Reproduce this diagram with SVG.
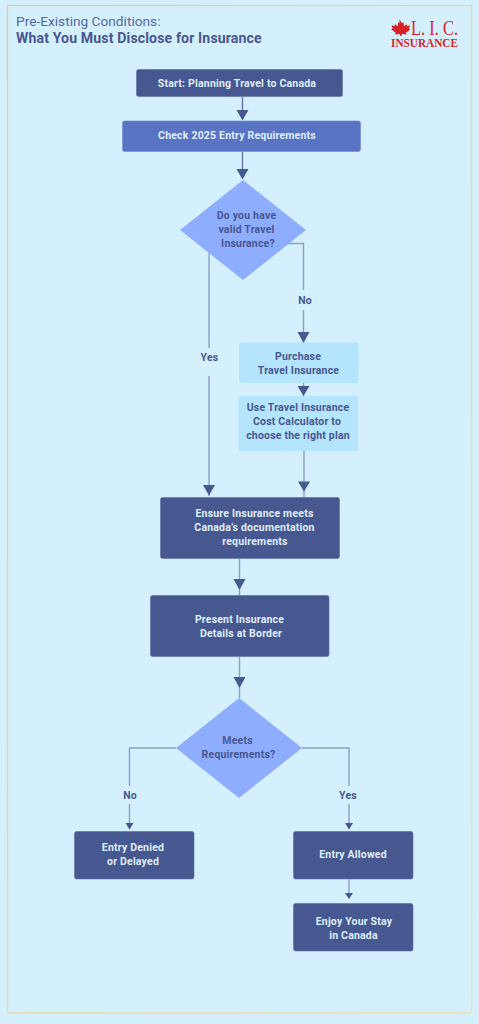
<svg xmlns="http://www.w3.org/2000/svg" width="479" height="1024" viewBox="0 0 479 1024">
<style>
text{font-family:"Roboto","Liberation Sans",sans-serif;text-anchor:middle;font-size:10.5px;font-weight:700;letter-spacing:.2px}
.l{fill:#dfeefb}.d{fill:#47578f}
.dark{fill:#47578f;stroke:#5d6ea6;stroke-width:.6}
.mid{fill:#5a74c4;stroke:#7187cf;stroke-width:.6}
.pale{fill:#b5e4ff}
.dia{fill:#8fadff}
.c{fill:none;stroke:#8a9fc9;stroke-width:1.4}
.k{fill:none;stroke:#5f74ab;stroke-width:1.4}
.h{fill:#47578f}
.logo{font-family:"Liberation Serif",serif;fill:#d8232a;letter-spacing:0}
</style>
<defs>
<linearGradient id="fr" x1="0" y1="0" x2="1" y2="1"><stop offset="0" stop-color="#d9d0a6"/><stop offset="1" stop-color="#f8dfa4"/></linearGradient>
</defs>
<rect width="479" height="1024" fill="#d4f0ff"/>
<rect x="7.500" y="5.500" width="464" height="1007.500" fill="#d4f0ff" stroke="url(#fr)" stroke-width="1.400"/>
<g id="title">
<text x="16" y="26" style="text-anchor:start;font-size:13.700px;font-weight:400;letter-spacing:0" fill="#56689f">Pre-Existing Conditions:</text>
<text x="16" y="43" style="text-anchor:start;font-size:14.100px;font-weight:700;letter-spacing:.13px" fill="#47578f">What You Must Disclose for Insurance</text>
</g>
<g id="logo">
<path d="M399.500 19.500l2.500 3.500 1.500-.7.500 4 2.500-2 .7 1.700 2.800-.7-1 3.200 1.500.8-4.500 3.500.5 1.700-4.500-.6-.7 2.100h-1l-.7-2.100-4.500.6.500-1.700-4.500-3.500 1.500-.8-1-3.200 2.800.7.700-1.700 2.500 2 .5-4 1.500.7z" fill="#d8232a"/>
<text class="logo" x="411" y="35" textLength="47" lengthAdjust="spacingAndGlyphs" style="text-anchor:start;font-size:22px;font-weight:400">L. I. C.</text>
<text class="logo" x="391" y="46.500" textLength="67" lengthAdjust="spacingAndGlyphs" style="text-anchor:start;font-size:12.500px;font-weight:700">INSURANCE</text>
</g>
<g id="connectors">
<path class="k" d="M242.500 97V111M242.500 152V170"/>
<path class="h" d="M236.500 110H248.500L242.500 120.500Z"/>
<path class="h" d="M236.500 169H248.500L242.500 179.500Z"/>
<path class="c" d="M209 253V348M209 376V496"/>
<path class="h" d="M203 485H215L209 495.500Z"/>
<path class="c" d="M288 243.500H303.500V290M303.500 310V343"/>
<path class="h" d="M297.500 332H309.500L303.500 343Z"/>
<path class="c" d="M303.500 383V396"/>
<path class="h" d="M297.500 386H309.500L303.500 396Z"/>
<path class="c" d="M304 451V497"/>
<path class="h" d="M298 481.500H310L304 491.500Z"/>
<path class="c" d="M239.500 559V595"/>
<path class="h" d="M233.500 579H245.500L239.500 590Z"/>
<path class="c" d="M239.500 657V698"/>
<path class="h" d="M233.500 677H245.500L239.500 688Z"/>
<path class="c" d="M176 748H129.500V786M129.500 804V829"/>
<path class="h" d="M125.500 823H133.500L129.500 829.500Z"/>
<path class="c" d="M302 748H349V786M349 804V829"/>
<path class="h" d="M345 823H353L349 829.500Z"/>
<path class="c" d="M349 879.500V898"/>
<path class="h" d="M345 893H353L349 899Z"/>
</g>
<g id="n-start"><rect class="dark" x="136.500" y="69.500" width="206" height="27" rx="2"/><text class="l" x="237" y="87">Start: Planning Travel to Canada</text></g>
<g id="n-check"><rect class="mid" x="122.500" y="121" width="238" height="30.500" rx="2"/><text class="l" x="237" y="138.500">Check 2025 Entry Requirements</text></g>
<g id="n-valid"><polygon class="dia" points="243,180 306,230 243,280 180,230"/><text class="d" x="246.500" y="219">Do you have</text><text class="d" x="246.500" y="233">valid Travel</text><text class="d" x="248" y="246.500">Insurance?</text></g>
<g id="n-purchase"><rect class="pale" x="239" y="342.500" width="119.500" height="40.500" rx="2"/><text class="d" x="298" y="360">Purchase</text><text class="d" x="298.500" y="374">Travel Insurance</text></g>
<g id="n-calc"><rect class="pale" x="238.500" y="396" width="119.500" height="55" rx="2"/><text class="d" x="298" y="411">Use Travel Insurance</text><text class="d" x="297" y="425">Cost Calculator to</text><text class="d" x="298" y="439">choose the right plan</text></g>
<g id="n-ensure"><rect class="dark" x="160.500" y="497.500" width="179" height="61" rx="2"/><text class="l" x="254.500" y="517">Ensure Insurance meets</text><text class="l" x="254.500" y="531">Canada’s documentation</text><text class="l" x="255" y="545">requirements</text></g>
<g id="n-present"><rect class="dark" x="150.500" y="595.500" width="178.500" height="61" rx="2"/><text class="l" x="239.500" y="623">Present Insurance</text><text class="l" x="241" y="637">Details at Border</text></g>
<g id="n-meets"><polygon class="dia" points="239,698 302,748 239,798 176,748"/><text class="d" x="237.500" y="744">Meets</text><text class="d" x="238.500" y="758">Requirements?</text></g>
<g id="n-denied"><rect class="dark" x="74.500" y="831.500" width="119.500" height="47.500" rx="2"/><text class="l" x="133" y="851">Entry Denied</text><text class="l" x="133" y="865">or Delayed</text></g>
<g id="n-allowed"><rect class="dark" x="293.500" y="831.500" width="119.500" height="47.500" rx="2"/><text class="l" x="353" y="858">Entry Allowed</text></g>
<g id="n-enjoy"><rect class="dark" x="293.500" y="903.500" width="119.500" height="47.500" rx="2"/><text class="l" x="354" y="925">Enjoy Your Stay</text><text class="l" x="353.500" y="939">in Canada</text></g>
<text class="d" x="305" y="304">No</text>
<text class="d" x="209.500" y="361">Yes</text>
<text class="d" x="130" y="799">No</text>
<text class="d" x="348" y="799">Yes</text>
</svg>
